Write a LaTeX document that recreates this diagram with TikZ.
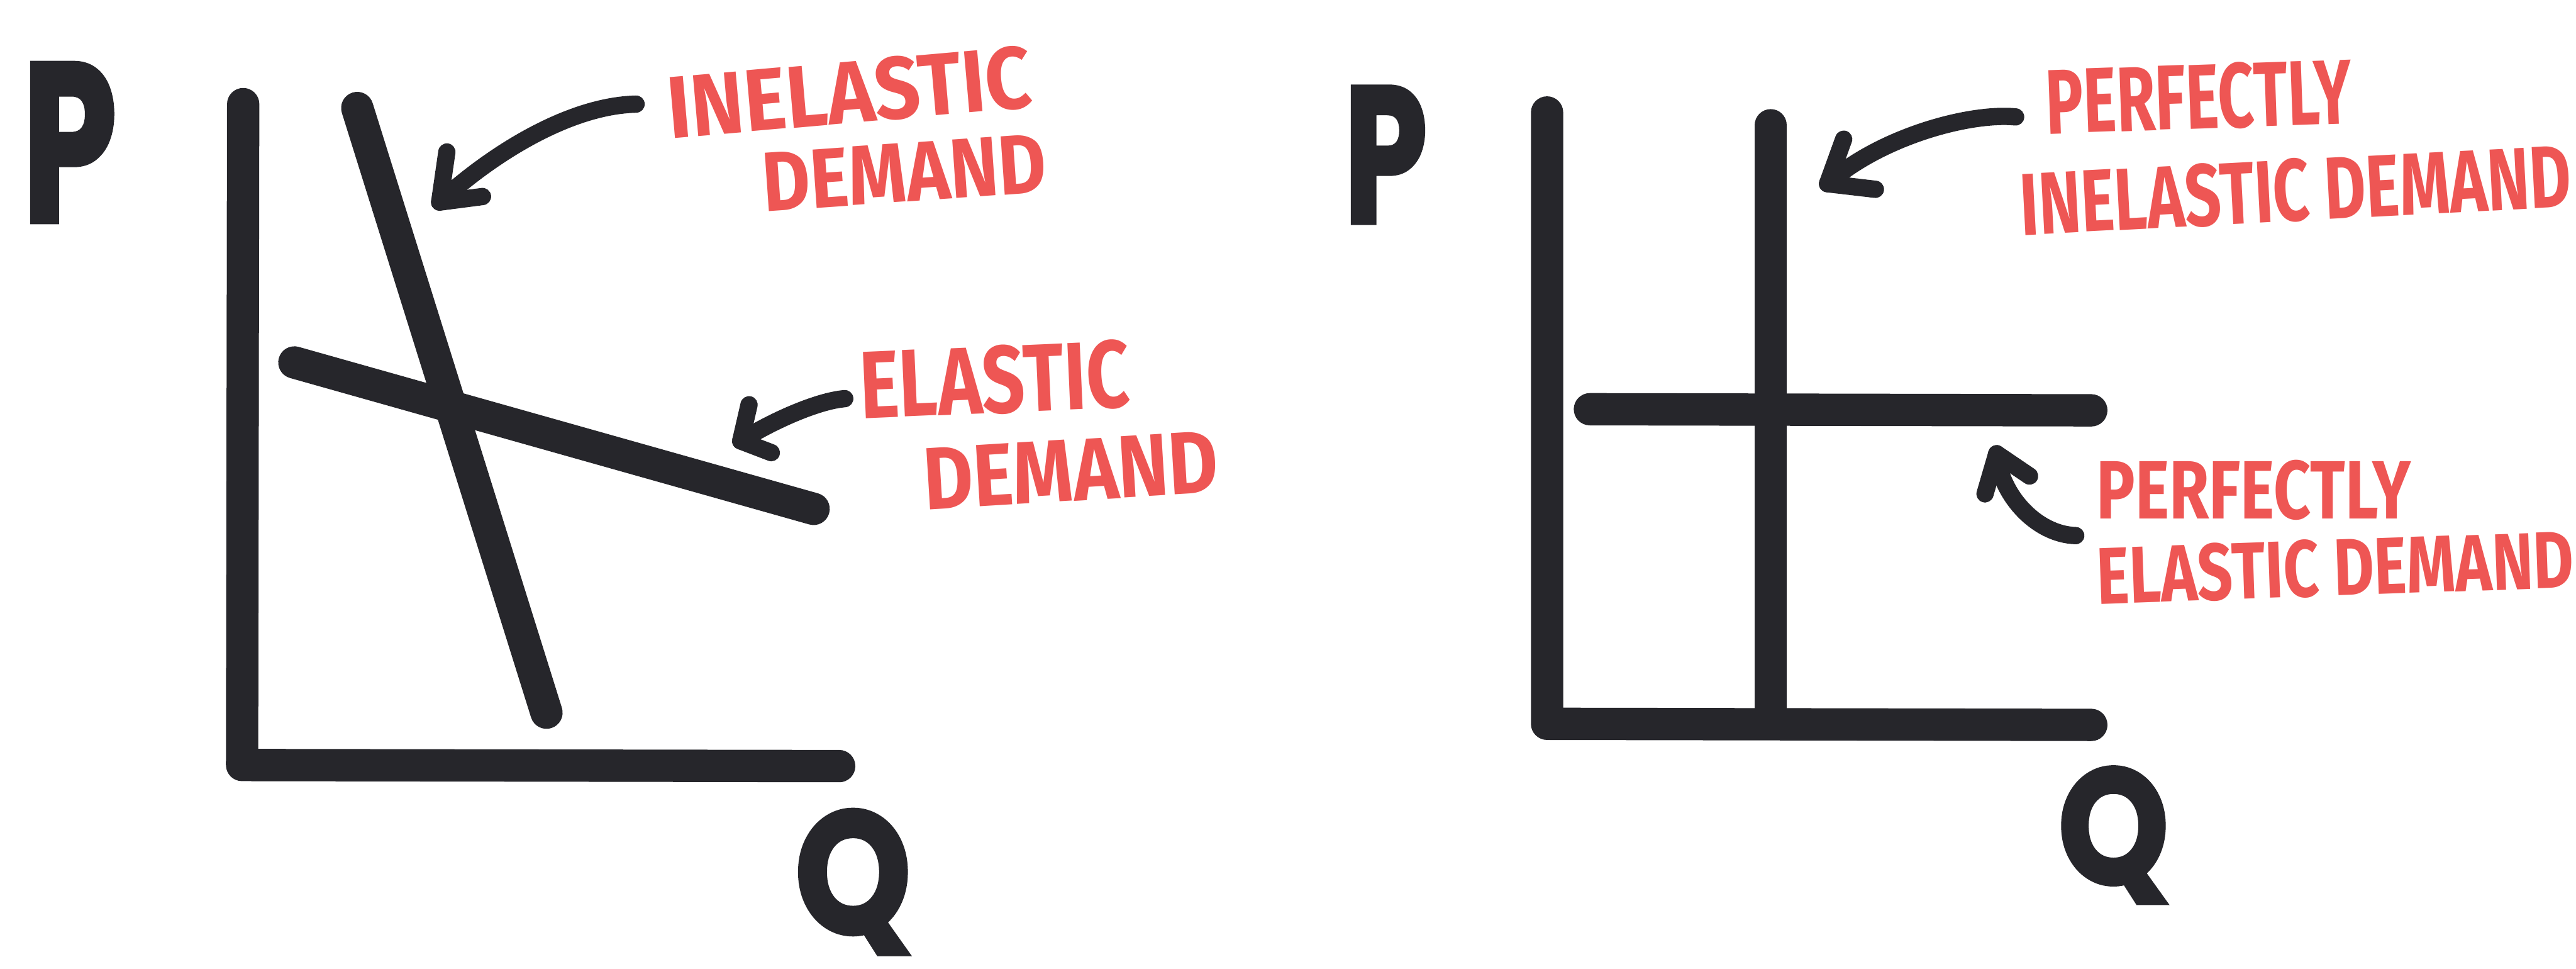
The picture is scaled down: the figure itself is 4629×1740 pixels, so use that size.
\documentclass[tikz,border=0pt]{standalone}
\usepackage{fontspec}
\usepackage{graphicx}
\setmainfont{Fira Sans}
\newfontfamily\handfont{Fira Sans}
\newfontfamily\axisfont{Poppins}[BoldFeatures={FakeBold=2}]
\definecolor{ink}{RGB}{38,38,43}
\definecolor{marker}{RGB}{238,86,84}
\newcommand{\handtxt}[3]{\resizebox*{#1}{#2}{\handfont\bfseries #3}}
\newcommand{\axtxt}[3]{\resizebox*{#1}{#2}{\axisfont\bfseries #3}}
\begin{document}
\begin{tikzpicture}[x=0.01cm,y=-0.01cm,
  heavyline/.style={draw=ink,line width=0.58cm,line cap=round,line join=round},
  pointer/.style={draw=ink,line width=0.31cm,line cap=round,line join=round},
  note/.style={text=marker,inner sep=0pt,outer sep=0pt},
  axlabel/.style={text=ink,inner sep=0pt,outer sep=0pt}]
\useasboundingbox[fill=white] (0,0) rectangle (4629,1740);

% ---------------- left panel ----------------
\coordinate (LyTop) at (437,187);
\coordinate (Lorig) at (435,1374);
\coordinate (LxEnd) at (1508,1376);
\coordinate (InTop) at (642,194);
\coordinate (InBot) at (982,1280);
\coordinate (ElL) at (529,651);
\coordinate (ElR) at (1462,914);

\draw[heavyline] (LyTop) -- (Lorig) -- (LxEnd);
\draw[heavyline] (InTop) -- (InBot);
\draw[heavyline] (ElL) -- (ElR);

\node[axlabel] (PL) at (125,256) {\axtxt{1.70cm}{2.85cm}{P}};
\node[axlabel] (QL) at (1533,1584) {\axtxt{2.10cm}{2.60cm}{Q}};

% arrow to inelastic line
\coordinate (A1s) at (1143,187);
\coordinate (A1t) at (790,363);
\coordinate (A1b1) at (803,273);
\coordinate (A1b2) at (867,353);
\draw[pointer] (A1s) .. controls (1020,190) and (880,280) .. (A1t);
\draw[pointer] (A1b1) -- (A1t) -- (A1b2);

% arrow to elastic line
\coordinate (A2s) at (1518,716);
\coordinate (A2t) at (1331,792);
\coordinate (A2b1) at (1346,727);
\coordinate (A2b2) at (1386,813);
\draw[pointer] (A2s) .. controls (1470,720) and (1390,755) .. (A2t);
\draw[pointer] (A2b1) -- (A2t) -- (A2b2);

\node[note,rotate=5] (t1) at (1526,166) {\handtxt{6.55cm}{1.15cm}{INELASTIC}};
\node[note,rotate=4] (t2) at (1625,310) {\handtxt{5.10cm}{1.05cm}{DEMAND}};
\node[note,rotate=2.5] (t3) at (1787,682) {\handtxt{4.85cm}{1.25cm}{ELASTIC}};
\node[note,rotate=3.5] (t4) at (1924,845) {\handtxt{5.30cm}{1.10cm}{DEMAND}};

% ---------------- right panel ----------------
\coordinate (RyTop) at (2780,202);
\coordinate (Rorig) at (2780,1300);
\coordinate (RxEnd) at (3758,1302);
\coordinate (VTop) at (3182,225);
\coordinate (VBot) at (3182,1278);
\coordinate (HL) at (2857,735);
\coordinate (HR) at (3758,737);

\draw[heavyline] (RyTop) -- (Rorig) -- (RxEnd);
\draw[heavyline] (VTop) -- (VBot);
\draw[heavyline] (HL) -- (HR);

\node[axlabel] (PR) at (2490,278) {\axtxt{1.50cm}{2.45cm}{P}};
\node[axlabel] (QR) at (3798,1500) {\axtxt{2.00cm}{2.45cm}{Q}};

% arrow to perfectly inelastic line
\coordinate (A3s) at (3622,210);
\coordinate (A3t) at (3284,330);
\coordinate (A3b1) at (3313,250);
\coordinate (A3b2) at (3370,340);
\draw[pointer] (A3s) .. controls (3540,202) and (3380,245) .. (A3t);
\draw[pointer] (A3b1) -- (A3t) -- (A3b2);

% arrow to perfectly elastic line
\coordinate (A4s) at (3730,962);
\coordinate (A4t) at (3588,815);
\coordinate (A4b1) at (3567,887);
\coordinate (A4b2) at (3647,855);
\draw[pointer] (A4s) .. controls (3660,960) and (3595,890) .. (A4t);
\draw[pointer] (A4b1) -- (A4t) -- (A4b2);

\node[note,rotate=2] (t5) at (3951,174) {\handtxt{5.50cm}{1.20cm}{PERFECTLY}};
\node[note,rotate=3] (t6) at (4125,342) {\handtxt{9.90cm}{1.15cm}{INELASTIC DEMAND}};
\node[note,rotate=0] (t7) at (4050,880) {\handtxt{5.65cm}{1.08cm}{PERFECTLY}};
\node[note,rotate=2] (t8) at (4196,1020) {\handtxt{8.57cm}{1.05cm}{ELASTIC DEMAND}};
\end{tikzpicture}
\end{document}
